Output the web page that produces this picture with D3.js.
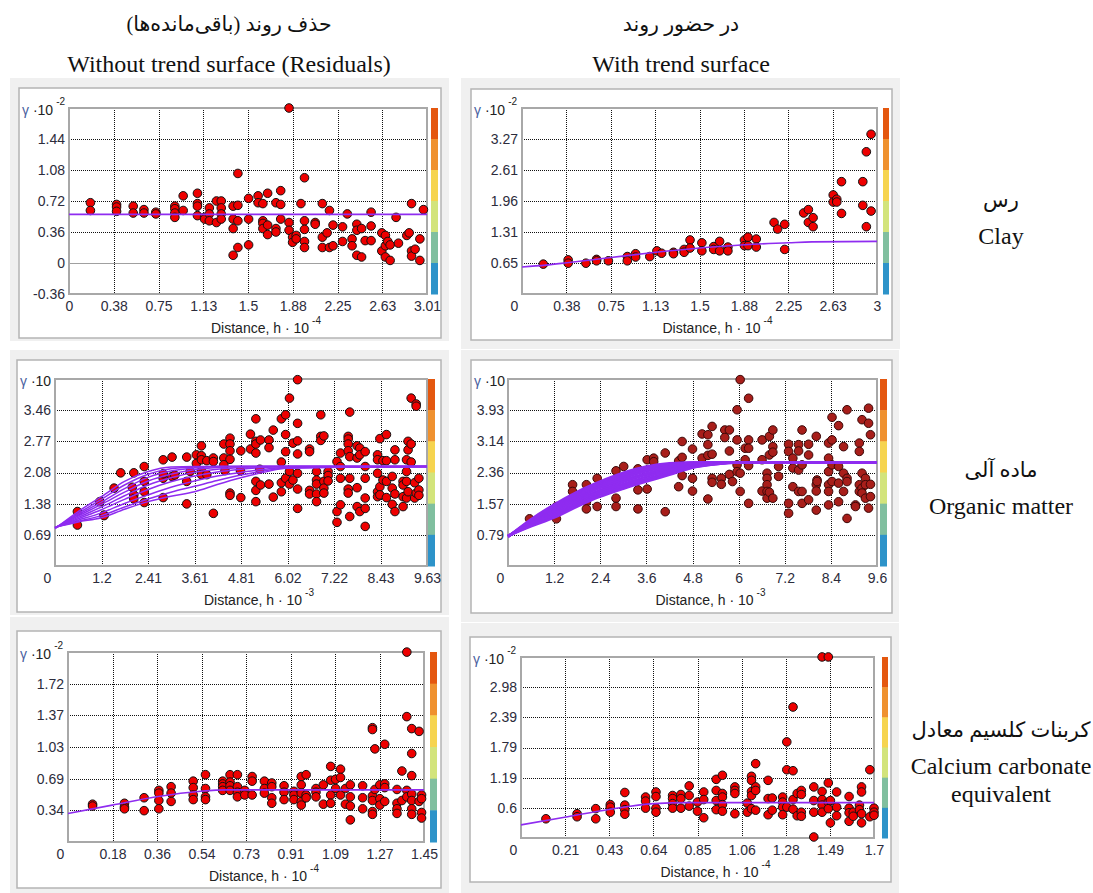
<!DOCTYPE html>
<html>
<head>
<meta charset="utf-8">
<title>Semivariograms with and without trend surface</title>
<script src="https://d3js.org/d3.v7.min.js"></script>
<style>
  body { margin: 0; background: #fff; }
  text { font-family: "Liberation Sans", Arial, sans-serif; }
  .serif { font-family: "Liberation Serif", "DejaVu Sans", serif; }
</style>
</head>
<body>
<div id="chart"></div>
<script>
// ---- data ----
// column headers and row names
var colTitlesFa = ["حذف روند (باقی\u200cمانده\u200cها)", "در حضور روند"];
var colTitlesEn = ["Without trend surface (Residuals)", "With trend surface"];
var rowNamesFa = ["رس", "ماده آلی", "کربنات کلسیم معادل"];
var rowNamesEn = [["Clay"], ["Organic matter"], ["Calcium carbonate", "equivalent"]];

// tick labels
var clayResXLabels = ["0", "0.38", "0.75", "1.13", "1.5", "1.88", "2.25", "2.63", "3.01"];
var clayTrendXLabels = ["0", "0.38", "0.75", "1.13", "1.5", "1.88", "2.25", "2.63", "3"];
var omResXLabels = ["0", "1.2", "2.41", "3.61", "4.81", "6.02", "7.22", "8.43", "9.63"];
var omTrendXLabels = ["0", "1.2", "2.4", "3.6", "4.8", "6", "7.2", "8.4", "9.6"];
var caResXLabels = ["0", "0.18", "0.36", "0.54", "0.73", "0.91", "1.09", "1.27", "1.45"];
var caTrendXLabels = ["0", "0.21", "0.43", "0.64", "0.85", "1.06", "1.28", "1.49", "1.7"];

var clayResYLabels = ["-0.36", "0", "0.36", "0.72", "1.08", "1.44", ""];
var clayTrendYLabels = ["", "0.65", "1.31", "1.96", "2.61", "3.27", ""];
var omResYLabels = ["", "0.69", "1.38", "2.08", "2.77", "3.46", ""];
var omTrendYLabels = ["", "0.79", "1.57", "2.36", "3.14", "3.93", ""];
var caResYLabels = ["", "0.34", "0.69", "1.03", "1.37", "1.72", ""];
var caTrendYLabels = ["", "0.6", "1.19", "1.79", "2.39", "2.98", ""];

// empirical semivariogram points [h, gamma]
var clayResPoints = [
  [0.18,0.70],[0.18,0.61],[0.40,0.68],[0.40,0.65],[0.40,0.60],[0.54,0.66],[0.54,0.58],
  [0.63,0.62],[0.63,0.58],[0.73,0.59],[0.73,0.57],[0.89,0.66],[0.89,0.63],[0.89,0.58],[0.89,0.53],
  [0.96,0.78],[0.96,0.61],[1.08,0.81],[1.08,0.69],[1.08,0.66],[1.08,0.55],[1.14,0.53],[1.14,0.51],
  [1.18,0.64],[1.18,0.57],[1.18,0.49],[1.24,0.72],[1.24,0.47],[1.28,0.72],[1.28,0.64],[1.28,0.57],[1.28,0.51],
  [1.38,0.66],[1.38,0.51],[1.38,0.40],[1.38,0.09],[1.42,1.04],[1.42,0.67],[1.42,0.49],[1.42,0.18],
  [1.51,0.75],[1.51,0.51],[1.51,0.21],[1.59,0.78],[1.59,0.70],[1.63,0.69],[1.63,0.49],[1.63,0.46],[1.63,0.40],
  [1.67,0.81],[1.67,0.44],[1.67,0.33],[1.74,0.70],[1.74,0.40],[1.74,0.36],[1.78,0.84],[1.78,0.68],[1.78,0.51],
  [1.85,1.80],[1.85,0.47],[1.85,0.38],[1.88,0.30],[1.88,0.24],[1.91,0.32],[1.91,0.28],[1.95,0.69],
  [1.98,0.99],[1.98,0.49],[1.98,0.39],[1.98,0.25],[1.98,0.18],[2.07,0.47],[2.07,0.45],
  [2.13,0.69],[2.13,0.30],[2.13,0.18],[2.17,0.35],[2.19,0.61],[2.19,0.18],[2.22,0.44],[2.22,0.20],
  [2.30,0.42],[2.30,0.25],[2.34,0.57],[2.38,0.28],[2.38,0.20],[2.42,0.45],[2.42,0.38],[2.42,0.09],
  [2.46,0.40],[2.46,0.07],[2.49,0.26],[2.54,0.59],[2.54,0.43],[2.54,0.26],[2.63,0.35],[2.63,0.14],
  [2.66,0.32],[2.66,0.20],[2.66,0.07],[2.68,0.25],[2.70,0.21],[2.70,0.03],[2.75,0.53],[2.77,0.23],
  [2.84,0.32],[2.86,0.35],[2.88,0.69],[2.88,0.14],[2.88,0.08],[2.91,0.16],[2.95,0.28],[2.95,0.03],[2.98,0.62]
];
var clayTrendPoints = [
  [0.18,0.63],[0.39,0.72],[0.39,0.65],[0.54,0.65],[0.63,0.73],[0.63,0.70],[0.73,0.70],
  [0.89,0.79],[0.89,0.70],[0.96,0.85],[0.96,0.78],[1.08,0.79],[1.14,0.91],[1.18,0.86],
  [1.28,0.88],[1.28,0.85],[1.37,0.94],[1.37,0.88],[1.42,1.14],[1.42,0.97],[1.52,1.08],[1.52,0.91],
  [1.62,1.00],[1.62,0.94],[1.67,1.11],[1.67,0.91],[1.74,0.99],[1.74,0.91],[1.88,1.14],[1.88,1.02],
  [1.91,1.20],[1.91,1.02],[1.98,1.16],[1.98,0.99],[2.13,1.51],[2.16,1.37],[2.22,1.47],[2.22,0.94],
  [2.38,1.71],[2.42,1.78],[2.42,1.51],[2.46,1.61],[2.46,1.42],[2.63,2.09],[2.63,1.94],[2.66,2.00],[2.66,1.94],
  [2.70,2.37],[2.70,1.70],[2.88,2.37],[2.88,1.87],[2.91,3.00],[2.91,1.42],[2.95,3.37],[2.95,1.75]
];
var omResPoints = [
  [0.58,1.21],[0.58,0.91],[1.27,1.13],[1.27,1.12],[1.16,1.43],[1.53,1.73],[1.70,2.07],
  [2.04,2.07],[2.04,1.58],[2.04,1.49],[2.31,2.21],[2.31,1.88],[2.31,1.65],[2.31,1.41],
  [2.80,2.36],[2.80,1.95],[2.80,1.52],[3.03,2.42],[3.03,1.99],[3.41,2.42],[3.41,1.88],[3.41,1.38],
  [3.66,2.47],[3.66,2.28],[3.79,2.67],[3.79,2.45],[3.79,2.36],[3.79,2.11],[3.79,2.03],
  [3.93,2.34],[3.93,2.03],[4.10,2.40],[4.10,2.32],[4.10,1.17],[4.37,2.71],[4.37,2.40],[4.37,2.25],
  [4.53,2.84],[4.53,2.71],[4.53,2.56],[4.53,2.37],[4.53,1.62],[4.53,1.57],[4.81,2.56],[4.81,1.52],
  [5.06,2.93],[5.06,2.60],[5.20,3.27],[5.20,2.77],[5.20,2.71],[5.20,2.51],[5.20,1.88],[5.20,1.68],[5.20,1.43],
  [5.32,2.80],[5.32,1.80],[5.54,2.80],[5.54,2.63],[5.54,1.82],[5.65,3.02],[5.65,1.53],
  [5.86,3.27],[5.86,2.31],[5.86,1.85],[5.86,1.65],[5.97,3.36],[5.97,2.92],[5.97,2.54],[5.97,1.95],
  [6.07,3.73],[6.07,2.10],[6.07,1.82],[6.16,2.73],[6.16,1.91],
  [6.28,4.14],[6.28,3.17],[6.28,2.78],[6.28,2.49],[6.28,2.06],[6.28,1.71],[6.28,1.28],
  [6.59,2.60],[6.59,2.54],[6.59,1.68],[6.59,1.60],[6.77,2.10],[6.77,1.91],[6.77,1.82],[6.77,1.60],[6.77,1.43],
  [6.88,3.36],[6.88,2.88],[6.88,2.79],[6.96,2.89],[6.96,1.88],[6.96,1.73],[6.96,1.62],
  [7.07,2.10],[7.07,2.01],[7.07,1.89],[7.30,2.32],[7.30,1.21],[7.30,0.97],
  [7.39,2.51],[7.39,2.21],[7.39,1.95],[7.39,1.36],[7.59,2.88],[7.59,2.82],[7.59,2.71],[7.59,2.56],[7.59,1.71],[7.59,1.62],
  [7.63,3.42],[7.63,2.43],[7.63,1.95],[7.63,1.10],[7.82,2.67],[7.82,2.40],[7.82,1.74],[7.82,1.32],
  [7.89,2.62],[7.89,2.47],[7.89,1.21],[8.03,2.54],[8.03,2.21],[8.03,1.95],[8.03,1.51],[8.03,1.28],[8.03,0.88],
  [8.35,2.47],[8.35,2.36],[8.35,2.06],[8.35,1.65],[8.35,1.54],[8.41,2.83],[8.41,1.76],[8.41,1.58],
  [8.49,2.34],[8.49,1.91],[8.58,2.92],[8.58,2.34],[8.58,1.88],[8.58,1.52],[8.73,1.99],[8.73,1.73],[8.73,1.37],
  [8.80,2.58],[8.80,2.36],[8.80,1.60],[8.80,1.21],[9.01,1.88],[9.01,1.80],[9.01,1.54],[9.01,1.32],
  [9.10,2.36],[9.10,2.10],[9.10,1.88],[9.10,1.51],[9.14,2.77],[9.14,2.58],[9.14,1.65],
  [9.22,3.73],[9.22,2.71],[9.22,2.31],[9.31,1.85],[9.31,1.51],[9.35,3.60],[9.35,3.55],[9.35,1.62],
  [9.42,1.95],[9.42,1.69],[9.42,1.57],
  [2.00,1.75],[2.80,2.05],[3.10,2.02],[3.50,2.10],[4.40,2.12],[4.80,2.12],[5.30,2.15]
];
var omTrendPoints = [
  [0.56,1.19],[1.26,1.19],[1.26,1.50],[1.68,2.05],[1.68,1.88],[2.04,2.05],[2.04,1.62],[2.04,1.44],
  [2.32,2.21],[2.32,1.50],[2.81,2.40],[2.81,2.00],[2.81,1.71],[2.81,1.50],[3.01,2.51],
  [3.38,2.45],[3.38,1.92],[3.38,1.44],[3.62,2.68],[3.62,1.94],[3.79,2.72],[3.79,2.63],
  [4.09,2.85],[4.09,1.37],[4.44,2.65],[4.44,2.00],[4.53,3.14],[4.53,2.74],[4.53,2.28],
  [4.80,2.95],[4.80,2.21],[4.80,1.89],[5.05,3.33],[5.05,2.72],[5.20,3.31],[5.20,3.06],[5.20,2.79],[5.20,1.69],
  [5.31,3.52],[5.31,2.82],[5.31,2.21],[5.31,2.11],[5.55,2.21],[5.55,2.06],[5.64,3.43],[5.64,3.24],
  [5.76,3.43],[5.76,2.90],[5.76,2.31],[5.84,2.13],[5.96,3.94],[5.96,3.18],[5.96,2.55],[5.96,2.38],
  [6.04,4.70],[6.04,2.34],[6.04,1.88],[6.17,2.97],[6.17,2.68],[6.26,4.23],[6.26,3.18],[6.26,2.97],[6.26,2.53],[6.26,1.58],
  [6.61,3.18],[6.61,2.68],[6.61,1.89],[6.74,2.34],[6.74,2.21],[6.74,2.05],[6.74,1.88],[6.74,1.71],
  [6.80,3.27],[6.80,2.80],[6.80,1.86],[6.89,3.43],[6.89,3.01],[6.89,2.87],[6.89,1.71],[7.04,2.51],[7.04,2.26],
  [7.30,3.07],[7.30,2.89],[7.30,1.58],[7.30,1.33],[7.41,2.72],[7.41,2.47],[7.41,2.00],
  [7.56,3.06],[7.56,2.90],[7.56,2.42],[7.56,1.88],[7.65,3.43],[7.65,2.55],[7.65,1.88],[7.65,1.58],
  [7.82,3.07],[7.82,2.80],[7.82,1.67],[8.02,3.27],[8.02,2.05],[8.02,1.89],[8.02,1.41],[8.04,2.17],[8.04,2.13],
  [8.34,3.10],[8.34,2.72],[8.34,2.38],[8.34,2.05],[8.34,1.88],[8.34,1.54],[8.43,3.75],[8.43,3.18],[8.43,2.55],[8.43,2.13],
  [8.60,3.54],[8.60,2.51],[8.60,2.09],[8.60,1.62],[8.73,3.01],[8.73,2.34],[8.73,1.88],
  [8.82,3.94],[8.82,2.21],[8.82,2.13],[8.82,1.20],[9.04,1.54],[9.04,1.50],
  [9.14,3.10],[9.14,2.89],[9.14,2.05],[9.14,1.88],[9.21,3.69],[9.21,2.34],[9.21,1.96],[9.21,1.84],
  [9.30,2.21],[9.30,2.05],[9.30,1.71],[9.38,3.98],[9.38,3.60],[9.38,1.46],[9.43,3.31],[9.43,2.06],[9.43,1.75]
];
var caResPoints = [
  [0.10,0.41],[0.10,0.39],[0.23,0.42],[0.23,0.38],[0.23,0.36],[0.31,0.48],[0.31,0.34],
  [0.37,0.56],[0.37,0.53],[0.37,0.45],[0.37,0.36],[0.42,0.60],[0.42,0.53],[0.42,0.44],
  [0.51,0.66],[0.51,0.59],[0.51,0.51],[0.51,0.46],[0.56,0.73],[0.56,0.58],[0.56,0.49],[0.56,0.46],
  [0.63,0.66],[0.63,0.63],[0.63,0.60],[0.63,0.56],[0.66,0.73],[0.66,0.65],[0.66,0.61],[0.66,0.56],
  [0.69,0.73],[0.69,0.60],[0.69,0.54],[0.69,0.49],[0.72,0.56],[0.72,0.51],[0.75,0.71],[0.75,0.66],[0.75,0.51],
  [0.80,0.66],[0.80,0.58],[0.80,0.53],[0.83,0.64],[0.83,0.60],[0.83,0.48],[0.83,0.42],
  [0.88,0.61],[0.88,0.54],[0.88,0.46],[0.92,0.55],[0.92,0.51],[0.92,0.46],
  [0.95,0.71],[0.95,0.62],[0.95,0.53],[0.95,0.44],[0.95,0.40],[0.97,0.73],[0.97,0.51],[0.97,0.48],
  [1.01,0.58],[1.01,0.54],[1.01,0.49],[1.04,0.62],[1.04,0.41],[1.07,0.82],[1.07,0.67],[1.07,0.51],[1.07,0.42],
  [1.09,0.68],[1.09,0.58],[1.11,0.79],[1.11,0.70],[1.11,0.51],[1.13,0.58],[1.13,0.41],
  [1.15,0.62],[1.15,0.49],[1.15,0.39],[1.15,0.24],[1.20,0.61],[1.20,0.48],[1.20,0.36],
  [1.24,1.24],[1.24,1.22],[1.24,0.50],[1.24,0.45],[1.24,0.33],[1.24,0.30],[1.25,1.01],[1.25,0.57],
  [1.27,0.62],[1.27,0.47],[1.27,0.40],[1.29,1.06],[1.29,0.63],[1.29,0.59],[1.29,0.44],
  [1.34,0.57],[1.34,0.42],[1.34,0.36],[1.34,0.31],[1.36,0.77],[1.36,0.45],
  [1.38,2.06],[1.38,1.36],[1.38,0.56],[1.38,0.49],
  [1.40,1.23],[1.40,0.96],[1.40,0.72],[1.40,0.52],[1.40,0.45],[1.40,0.36],[1.40,0.30],
  [1.43,1.20],[1.43,0.44],[1.44,0.51],[1.44,0.47],[1.44,0.32],[1.44,0.26]
];
var caTrendPoints = [
  [0.12,0.38],[0.27,0.48],[0.27,0.42],[0.36,0.58],[0.36,0.38],[0.43,0.66],[0.43,0.61],[0.43,0.51],
  [0.50,0.90],[0.50,0.65],[0.50,0.56],[0.50,0.47],[0.60,0.81],[0.60,0.73],[0.60,0.59],
  [0.65,0.91],[0.65,0.82],[0.65,0.59],[0.65,0.51],[0.73,0.84],[0.73,0.78],[0.73,0.68],[0.73,0.59],
  [0.77,0.86],[0.77,0.78],[0.77,0.59],[0.81,1.03],[0.81,0.84],[0.81,0.63],[0.85,0.71],[0.85,0.53],
  [0.88,0.91],[0.88,0.76],[0.88,0.40],[0.94,1.16],[0.94,0.94],[0.94,0.74],[0.94,0.56],
  [0.97,1.24],[0.97,0.88],[0.97,0.81],[0.97,0.66],[0.97,0.53],[1.03,1.01],[1.03,0.94],[1.03,0.88],[1.03,0.48],
  [1.09,0.69],[1.09,0.51],[1.11,1.22],[1.11,1.14],[1.11,0.92],[1.11,0.84],[1.11,0.58],
  [1.13,1.47],[1.13,1.01],[1.13,0.94],[1.13,0.55],[1.19,1.14],[1.19,0.78],[1.19,0.46],[1.21,0.79],[1.21,0.55],
  [1.26,0.81],[1.26,0.71],[1.26,0.61],[1.26,0.46],[1.28,1.90],[1.28,1.35],[1.28,0.61],
  [1.31,2.59],[1.31,1.33],[1.31,0.76],[1.31,0.57],[1.33,0.88],[1.33,0.44],
  [1.35,0.94],[1.35,0.86],[1.35,0.51],[1.35,0.43],[1.41,1.01],[1.41,0.74],[1.41,0.51],[1.41,0.02],
  [1.45,3.58],[1.45,0.92],[1.45,0.76],[1.45,0.65],[1.45,0.51],[1.48,3.58],[1.48,1.09],[1.48,0.71],[1.48,0.58],
  [1.49,0.74],[1.49,0.30],[1.52,0.91],[1.52,0.61],[1.52,0.44],[1.58,0.82],[1.58,0.59],[1.58,0.50],[1.58,0.33],
  [1.60,0.51],[1.60,0.43],[1.63,0.65],[1.63,0.56],[1.64,1.01],[1.64,0.91],[1.64,0.48],[1.64,0.30],
  [1.68,1.35],[1.68,0.42],[1.70,0.59],[1.70,0.51],[1.70,0.45]
];

// fitted models [h, gamma]
var clayResModel = [[0, 0.565], [3.01, 0.565]];
var clayTrendModel = [[0,0.57],[0.2,0.61],[0.38,0.66],[0.75,0.77],[1.13,0.88],[1.5,0.97],[1.88,1.04],[2.25,1.08],[2.45,1.10],[3,1.11]];
var omResModelX = [0, 0.6, 1.2, 1.8, 2.41, 3.0, 3.61, 4.2, 4.81, 5.4, 6.0, 9.63];
var omResModels = [
  [0.83,1.21,1.54,1.88,2.10,2.20,2.21,2.21,2.21,2.21,2.21,2.21],
  [0.84,1.17,1.48,1.80,2.04,2.16,2.20,2.21,2.21,2.21,2.21,2.21],
  [0.84,1.14,1.42,1.72,1.97,2.11,2.18,2.21,2.21,2.21,2.21,2.21],
  [0.85,1.11,1.37,1.64,1.89,2.04,2.14,2.19,2.21,2.21,2.21,2.21],
  [0.85,1.08,1.31,1.56,1.80,1.96,2.08,2.15,2.19,2.21,2.21,2.21],
  [0.85,1.05,1.25,1.48,1.70,1.87,2.00,2.09,2.15,2.19,2.21,2.21],
  [0.86,1.02,1.18,1.39,1.58,1.75,1.89,2.00,2.08,2.15,2.19,2.21],
  [0.86,0.99,1.12,1.31,1.49,1.64,1.77,1.90,2.02,2.11,2.18,2.21],
  [0.86,0.98,1.07,1.26,1.43,1.55,1.65,1.81,1.96,2.08,2.17,2.21]
];
var omTrendModelX = [0, 0.6, 1.2, 1.8, 2.4, 3.0, 3.6, 4.2, 4.8, 5.4, 6.0, 9.6];
var omTrendModels = [
  [0.74,1.18,1.55,1.87,2.13,2.35,2.51,2.59,2.61,2.61,2.61,2.61],
  [0.74,1.16,1.52,1.83,2.09,2.31,2.47,2.57,2.61,2.61,2.61,2.61],
  [0.74,1.14,1.48,1.79,2.05,2.27,2.43,2.54,2.60,2.61,2.61,2.61],
  [0.75,1.12,1.45,1.75,2.01,2.22,2.39,2.51,2.58,2.61,2.61,2.61],
  [0.75,1.10,1.41,1.71,1.97,2.17,2.34,2.47,2.56,2.60,2.61,2.61],
  [0.75,1.08,1.38,1.67,1.92,2.12,2.30,2.43,2.54,2.59,2.61,2.61],
  [0.75,1.06,1.34,1.63,1.88,2.07,2.25,2.40,2.52,2.59,2.61,2.61],
  [0.76,1.04,1.30,1.58,1.83,2.03,2.20,2.36,2.50,2.58,2.61,2.61],
  [0.76,1.02,1.26,1.54,1.79,1.99,2.17,2.33,2.49,2.57,2.61,2.61],
  [0.76,1.00,1.22,1.50,1.75,1.95,2.13,2.30,2.48,2.57,2.61,2.61]
];
var caResModel = [[0,0.31],[0.18,0.40],[0.36,0.49],[0.54,0.55],[0.65,0.565],[1.45,0.565]];
var caTrendModel = [[0,0.26],[0.21,0.41],[0.43,0.57],[0.64,0.68],[0.8,0.70],[1.7,0.70]];

var barColors = ["#e4570f", "#ef912f", "#f6d44f", "#d3e47b", "#80bf9f", "#2d93c9"];

// ---- layout ----
var width = 1093, height = 893;
var svg = d3.select("#chart").append("svg")
    .attr("width", width).attr("height", height);

function pairs(xs, ys) { return xs.map(function(v, i) { return [v, ys[i]]; }); }

var panels = [
  {frame:[10,78,449,341], inner:[19,88,441,338], plot:[69,108,427,294], bar:[431,438],
   xMax:3.01, xLabels:clayResXLabels, yMin:-0.36, yStep:0.36, yLabels:clayResYLabels,
   yExp:"-2", xExp:"-4", points:clayResPoints, models:[clayResModel], dark:false, bundle:1.6},
  {frame:[461,78,900,349], inner:[471,89,892,340], plot:[522,108,877,294], bar:[883,889],
   xMax:3, xLabels:clayTrendXLabels, yMin:0, yStep:0.654, yLabels:clayTrendYLabels,
   yExp:"-2", xExp:"-4", points:clayTrendPoints, models:[clayTrendModel], dark:false, bundle:1.6},
  {frame:[10,350,449,615], inner:[17,360,441,612], plot:[55,379,427,566], bar:[428,435],
   xMax:9.63, xLabels:omResXLabels, yMin:0, yStep:0.6925, yLabels:omResYLabels,
   yExp:"", xExp:"-3", points:omResPoints,
   models:omResModels.map(function(c) { return pairs(omResModelX, c); }), dark:false, bundle:1.5},
  {frame:[461,350,899,622], inner:[471,360,892,613], plot:[508,379,877,566], bar:[880,887],
   xMax:9.6, xLabels:omTrendXLabels, yMin:0, yStep:0.786, yLabels:omTrendYLabels,
   yExp:"", xExp:"-3", points:omTrendPoints,
   models:omTrendModels.map(function(c) { return pairs(omTrendModelX, c); }), dark:true, bundle:2.6},
  {frame:[10,617,449,893], inner:[17,631,441,888], plot:[68,652,424,842], bar:[430,437],
   xMax:1.45, xLabels:caResXLabels, yMin:0, yStep:0.3435, yLabels:caResYLabels,
   yExp:"-2", xExp:"-4", points:caResPoints, models:[caResModel], dark:false, bundle:1.6},
  {frame:[461,623,899,893], inner:[470,637,891,882], plot:[521,657,874,838], bar:[882,888],
   xMax:1.7, xLabels:caTrendXLabels, yMin:0, yStep:0.5965, yLabels:caTrendYLabels,
   yExp:"-2", xExp:"-4", points:caTrendPoints, models:[caTrendModel], dark:false, bundle:1.6}
];

function drawPanel(p) {
  var g = svg.append("g");
  // window background and white chart area
  g.append("rect")
      .attr("x", p.frame[0]).attr("y", p.frame[1])
      .attr("width", p.frame[2] - p.frame[0]).attr("height", p.frame[3] - p.frame[1])
      .attr("fill", "#f0f0f0");
  g.append("rect")
      .attr("x", p.inner[0]).attr("y", p.inner[1])
      .attr("width", p.inner[2] - p.inner[0]).attr("height", p.inner[3] - p.inner[1])
      .attr("fill", "#fff").attr("stroke", "#b4b4b4").attr("stroke-width", 1.5);

  var x = d3.scaleLinear().domain([0, p.xMax]).range([p.plot[0], p.plot[2]]);
  var y = d3.scaleLinear().domain([p.yMin, p.yMin + 6 * p.yStep]).range([p.plot[3], p.plot[1]]);
  var xt = d3.range(9).map(function(i) { return p.xMax * i / 8; });
  var yt = d3.range(7).map(function(i) { return p.yMin + p.yStep * i; });

  // grid
  g.selectAll(".vg").data(xt.slice(1, 8)).join("line")
      .attr("x1", function(d) { return Math.round(x(d)) + 0.5; })
      .attr("x2", function(d) { return Math.round(x(d)) + 0.5; })
      .attr("y1", p.plot[1]).attr("y2", p.plot[3])
      .attr("stroke", "#111").attr("stroke-dasharray", "1,1");
  g.selectAll(".hg").data(yt.slice(1, 6)).join("line")
      .attr("x1", p.plot[0]).attr("x2", p.plot[2])
      .attr("y1", function(d) { return Math.round(y(d)) + 0.5; })
      .attr("y2", function(d) { return Math.round(y(d)) + 0.5; })
      .attr("stroke", function(d) { return Math.abs(d) < 1e-9 ? "#a0a0a0" : "#111"; })
      .attr("stroke-dasharray", function(d) { return Math.abs(d) < 1e-9 ? null : "1,1"; });

  // plot border
  g.append("rect")
      .attr("x", p.plot[0]).attr("y", p.plot[1])
      .attr("width", p.plot[2] - p.plot[0]).attr("height", p.plot[3] - p.plot[1])
      .attr("fill", "none").attr("stroke", "#a8a8a8").attr("stroke-width", 2);

  // colour bar
  var bandY = d3.scaleBand().domain(d3.range(6)).range([p.plot[1], p.plot[3]]);
  g.selectAll(".bar").data(barColors).join("rect")
      .attr("x", p.bar[0]).attr("width", p.bar[1] - p.bar[0])
      .attr("y", function(d, i) { return bandY(i); })
      .attr("height", bandY.bandwidth() + 0.5)
      .attr("fill", function(d) { return d; });

  // points
  g.selectAll(".pt").data(p.points).join("circle")
      .attr("cx", function(d) { return x(d[0]); })
      .attr("cy", function(d) { return y(d[1]); })
      .attr("r", 4.3)
      .attr("fill", p.dark ? "#a81e1a" : "#ee0000")
      .attr("stroke", p.dark ? "#3a0808" : "#111")
      .attr("stroke-width", 1);

  // model curves
  var line = d3.line()
      .x(function(d) { return x(d[0]); })
      .y(function(d) { return y(d[1]); })
      .curve(d3.curveMonotoneX);
  g.selectAll(".model").data(p.models).join("path")
      .attr("d", line)
      .attr("fill", "none")
      .attr("stroke", "#8f2cf0")
      .attr("stroke-width", p.bundle);

  // axes
  var xAxis = g.append("g")
      .attr("transform", "translate(0," + p.plot[3] + ")")
      .call(d3.axisBottom(x).tickValues(xt).tickSize(0).tickPadding(7)
          .tickFormat(function(d, i) { return p.xLabels[i]; }));
  xAxis.select(".domain").remove();
  xAxis.selectAll("text")
      .attr("font-size", 14).attr("font-family", "Liberation Sans, Arial, sans-serif")
      .attr("fill", "#2c2c3c")
      .attr("dx", function(d, i) { return (i === 0 && p.yMin === 0) ? -8 : 0; });

  var yAxis = g.append("g")
      .attr("transform", "translate(" + p.plot[0] + ",0)")
      .call(d3.axisLeft(y).tickValues(yt).tickSize(0).tickPadding(4)
          .tickFormat(function(d, i) { return p.yLabels[i]; }));
  yAxis.select(".domain").remove();
  yAxis.selectAll("text")
      .attr("font-size", 14).attr("font-family", "Liberation Sans, Arial, sans-serif")
      .attr("fill", "#2c2c3c");

  // axis titles
  var yt1 = g.append("text")
      .attr("x", p.inner[0] + 3).attr("y", p.plot[1] + 7)
      .attr("font-size", 14);
  yt1.append("tspan").attr("fill", "#4a5fa0").text("γ");
  yt1.append("tspan").attr("fill", "#222").text(" \u00b710");
  if (p.yExp) {
    yt1.append("tspan").attr("fill", "#222").attr("font-size", 10)
        .attr("dx", 3).attr("dy", -10).text(p.yExp);
  }

  var cx = (p.plot[0] + p.plot[2]) / 2;
  var xt1 = g.append("text")
      .attr("x", cx - 37).attr("y", p.plot[3] + 39)
      .attr("font-size", 14).attr("fill", "#222");
  xt1.append("tspan").text("Distance, h \u00b7 10");
  xt1.append("tspan").attr("font-size", 10).attr("dx", 3).attr("dy", -9).text(p.xExp);
}

panels.forEach(drawPanel);

// column headers
var colCenters = [229, 681];
colCenters.forEach(function(c, i) {
  svg.append("text").attr("class", "serif")
      .attr("x", c).attr("y", 31).attr("text-anchor", "middle")
      .attr("font-size", 20.5).attr("fill", "#111")
      .text(colTitlesFa[i]);
  svg.append("text").attr("class", "serif")
      .attr("x", c).attr("y", 72).attr("text-anchor", "middle")
      .attr("font-size", 24).attr("fill", "#111")
      .text(colTitlesEn[i]);
});

// row names on the right
var rowFaY = [207, 477, 737];
rowNamesFa.forEach(function(t, i) {
  svg.append("text").attr("class", "serif")
      .attr("x", 1001).attr("y", rowFaY[i]).attr("text-anchor", "middle")
      .attr("font-size", 21).attr("fill", "#111")
      .text(t);
  rowNamesEn[i].forEach(function(s, j) {
    svg.append("text").attr("class", "serif")
        .attr("x", 1001).attr("y", rowFaY[i] + 37 + j * 28).attr("text-anchor", "middle")
        .attr("font-size", 24).attr("fill", "#111")
        .text(s);
  });
});
</script>
</body>
</html>
